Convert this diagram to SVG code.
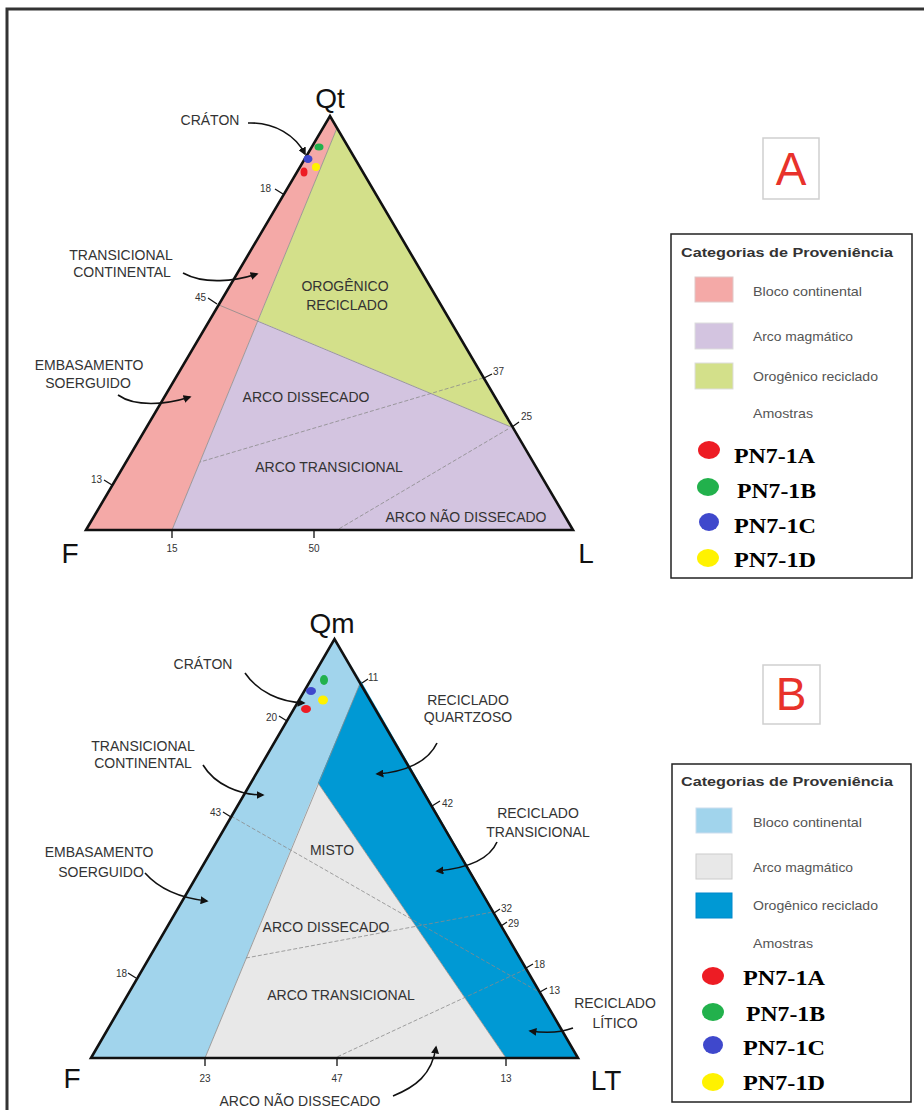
<svg xmlns="http://www.w3.org/2000/svg" width="924" height="1110" viewBox="0 0 924 1110">
<defs>
<style>
.edge{fill:none;stroke:#111;stroke-width:2.6;stroke-linejoin:miter}
.div{fill:none;stroke:#8a8a8a;stroke-width:0.8}
.dash{fill:none;stroke:#8a8a8a;stroke-width:0.8;stroke-dasharray:4 2}
.tick{fill:none;stroke:#111;stroke-width:1.3}
.lbl{font-family:"Liberation Sans",Arial,sans-serif;font-size:14px;fill:#333;text-anchor:middle}
.num{font-family:"Liberation Sans",Arial,sans-serif;font-size:10px;fill:#333}
.vtx{font-family:"Liberation Sans",Arial,sans-serif;font-size:28px;fill:#111}
.ptr{fill:none;stroke:#111;stroke-width:1.6}
.lt{font-family:"Liberation Sans",Arial,sans-serif;font-size:13px;font-weight:bold;fill:#333}
.li{font-family:"Liberation Sans",Arial,sans-serif;font-size:13px;fill:#555}
.pn{font-family:"Liberation Serif","Times New Roman",serif;font-size:21px;font-weight:bold;fill:#000}
.big{font-family:"Liberation Sans",Arial,sans-serif;font-size:46px;fill:#e8322b;text-anchor:middle}
.badge{fill:#fff;stroke:#cfcfcf;stroke-width:1.5}
.lbox{fill:#fff;stroke:#222;stroke-width:1.5}
</style>
<marker id="ah" viewBox="0 0 10 10" refX="8" refY="5" markerWidth="8" markerHeight="8" markerUnits="userSpaceOnUse" orient="auto">
<path d="M0,0 L10,5 L0,10 Z" fill="#111"/>
</marker>
</defs>
<rect width="924" height="1110" fill="#fff"/>
<rect x="7" y="9" width="940" height="1130" fill="none" stroke="#333" stroke-width="3"/>

<!-- Diagram A -->
<g id="triangleA">
<polygon points="86,530 330,116 337,128 172,530" fill="#f4a9a7"/>
<polygon points="337,128 511,427 258,321" fill="#d3e08a"/>
<polygon points="258,321 511,427 573,530 172,530" fill="#d3c4e0"/>
<line class="div" x1="337" y1="128" x2="172" y2="530"/>
<line class="div" x1="219" y1="305" x2="511" y2="427"/>
<line class="dash" x1="483" y1="378" x2="200" y2="462"/>
<line class="dash" x1="508" y1="429" x2="337" y2="530"/>
<polygon class="edge" points="86,530 330,116 573,530"/>
<path class="tick" d="M275,189 L283,194 M208,298 L217,304 M104,480 L112,485 M172,530 L172,538 M314,530 L314,538 M484,378 L492,374 M512,427 L519,422"/>
<text class="num" x="271" y="192" text-anchor="end">18</text>
<text class="num" x="206" y="301" text-anchor="end">45</text>
<text class="num" x="102" y="483" text-anchor="end">13</text>
<text class="num" x="172" y="552" text-anchor="middle">15</text>
<text class="num" x="314" y="552" text-anchor="middle">50</text>
<text class="num" x="493" y="375">37</text>
<text class="num" x="521" y="420">25</text>
<text class="vtx" x="330" y="108" text-anchor="middle">Qt</text>
<text class="vtx" x="70" y="563" text-anchor="middle">F</text>
<text class="vtx" x="586" y="563" text-anchor="middle">L</text>
<text class="lbl" x="345" y="291">OROGÊNICO</text>
<text class="lbl" x="347" y="310">RECICLADO</text>
<text class="lbl" x="306" y="402">ARCO DISSECADO</text>
<text class="lbl" x="329" y="472">ARCO TRANSICIONAL</text>
<text class="lbl" x="466" y="522">ARCO NÃO DISSECADO</text>
</g>
<g id="labelsA">
<text class="lbl" x="210" y="125">CRÁTON</text>
<text class="lbl" x="121" y="260">TRANSICIONAL</text>
<text class="lbl" x="122" y="277">CONTINENTAL</text>
<text class="lbl" x="89" y="370">EMBASAMENTO</text>
<text class="lbl" x="88" y="388">SOERGUIDO</text>
</g>
<g id="connectorsA">
<path class="ptr" d="M248,123 C275,122 296,136 305,154" marker-end="url(#ah)"/>
<path class="ptr" d="M183,273 C205,285 235,281 257,274" marker-end="url(#ah)"/>
<path class="ptr" d="M118,395 C135,407 165,405 190,397" marker-end="url(#ah)"/>
</g>
<g id="samplesA">
<ellipse cx="319" cy="147" rx="4.5" ry="3.5" fill="#22b14c"/>
<ellipse cx="308" cy="159" rx="4.5" ry="4" fill="#3f48cc"/>
<ellipse cx="316" cy="167" rx="4" ry="4" fill="#fff200"/>
<ellipse cx="304" cy="172" rx="3.5" ry="4.5" fill="#ed1c24"/>
</g>
<g id="badgeA">
<rect class="badge" x="763" y="138" width="56" height="61"/>
<text class="big" x="791" y="185">A</text>
</g>
<g id="legendA">
<rect class="lbox" x="671" y="234" width="241" height="344"/>
<text class="lt" x="681" y="257" textLength="212" lengthAdjust="spacingAndGlyphs">Categorias de Proveniência</text>
<rect x="695" y="277" width="38" height="25" fill="#f4a9a7" stroke="#e0c8c8"/>
<rect x="695" y="323" width="38" height="26" fill="#d3c4e0" stroke="#ddd"/>
<rect x="695" y="363" width="38" height="26" fill="#d3e08a" stroke="#ddd"/>
<text class="li" x="753" y="296" textLength="109" lengthAdjust="spacingAndGlyphs">Bloco continental</text>
<text class="li" x="753" y="341" textLength="100" lengthAdjust="spacingAndGlyphs">Arco magmático</text>
<text class="li" x="753" y="381" textLength="125" lengthAdjust="spacingAndGlyphs">Orogênico reciclado</text>
<text class="li" x="753" y="418" textLength="60" lengthAdjust="spacingAndGlyphs">Amostras</text>
<ellipse cx="709" cy="450" rx="11" ry="9" fill="#ed1c24"/>
<ellipse cx="708" cy="487" rx="11" ry="9" fill="#22b14c"/>
<ellipse cx="709" cy="522" rx="10" ry="9" fill="#3f48cc"/>
<ellipse cx="708" cy="558" rx="11" ry="9" fill="#fff200"/>
<text class="pn" x="734" y="463" textLength="81" lengthAdjust="spacingAndGlyphs">PN7-1A</text>
<text class="pn" x="737" y="498" textLength="79" lengthAdjust="spacingAndGlyphs">PN7-1B</text>
<text class="pn" x="734" y="533" textLength="82" lengthAdjust="spacingAndGlyphs">PN7-1C</text>
<text class="pn" x="734" y="567" textLength="82" lengthAdjust="spacingAndGlyphs">PN7-1D</text>
</g>

<!-- Diagram B -->
<g id="triangleB">
<polygon points="91,1058 334.5,639 361,681 205,1058" fill="#a1d4ec"/>
<polygon points="361,681 578,1058 506,1058 318,783" fill="#0099d4"/>
<polygon points="318,783 506,1058 205,1058" fill="#e8e8e8"/>
<line class="div" x1="361" y1="681" x2="205" y2="1058"/>
<line class="div" x1="318" y1="783" x2="506" y2="1058"/>
<line class="dash" x1="231" y1="816" x2="539" y2="992"/>
<line class="dash" x1="246" y1="958" x2="493" y2="912"/>
<line class="dash" x1="526" y1="969" x2="337" y2="1057"/>
<polygon class="edge" points="91,1058 334.5,639 578,1058"/>
<path class="tick" d="M279,716 L287,721 M223,812 L231,817 M128,973 L136,978 M205,1058 L205,1066 M337,1058 L337,1066 M506,1058 L506,1066 M362,683 L368,679 M432,806 L440,801 M494,913 L500,909 M501,926 L507,922 M526,968 L533,964 M540,992 L547,988"/>
<text class="num" x="277" y="721" text-anchor="end">20</text>
<text class="num" x="221" y="816" text-anchor="end">43</text>
<text class="num" x="127" y="977" text-anchor="end">18</text>
<text class="num" x="205" y="1082" text-anchor="middle">23</text>
<text class="num" x="337" y="1082" text-anchor="middle">47</text>
<text class="num" x="506" y="1082" text-anchor="middle">13</text>
<text class="num" x="368" y="681">11</text>
<text class="num" x="442" y="807">42</text>
<text class="num" x="501" y="912">32</text>
<text class="num" x="508" y="927">29</text>
<text class="num" x="534" y="968">18</text>
<text class="num" x="549" y="994">13</text>
<text class="vtx" x="332" y="633" text-anchor="middle">Qm</text>
<text class="vtx" x="72" y="1088" text-anchor="middle">F</text>
<text class="vtx" x="606" y="1090" text-anchor="middle">LT</text>
<text class="lbl" x="332" y="855">MISTO</text>
<text class="lbl" x="326" y="932">ARCO DISSECADO</text>
<text class="lbl" x="341" y="1000">ARCO TRANSICIONAL</text>
</g>
<g id="labelsB">
<text class="lbl" x="203" y="669">CRÁTON</text>
<text class="lbl" x="143" y="751">TRANSICIONAL</text>
<text class="lbl" x="143" y="768">CONTINENTAL</text>
<text class="lbl" x="99" y="857">EMBASAMENTO</text>
<text class="lbl" x="101" y="877">SOERGUIDO</text>
<text class="lbl" x="468" y="705">RECICLADO</text>
<text class="lbl" x="468" y="722">QUARTZOSO</text>
<text class="lbl" x="538" y="818">RECICLADO</text>
<text class="lbl" x="538" y="837">TRANSICIONAL</text>
<text class="lbl" x="615" y="1008">RECICLADO</text>
<text class="lbl" x="615" y="1028">LÍTICO</text>
<text class="lbl" x="300" y="1106">ARCO NÃO DISSECADO</text>
</g>
<g id="connectorsB">
<path class="ptr" d="M245,673 C258,692 280,702 304,703" marker-end="url(#ah)"/>
<path class="ptr" d="M203,765 C215,785 240,795 263,795" marker-end="url(#ah)"/>
<path class="ptr" d="M145,873 C160,890 180,898 207,901" marker-end="url(#ah)"/>
<path class="ptr" d="M437,743 C428,762 405,772 377,774" marker-end="url(#ah)"/>
<path class="ptr" d="M497,842 C490,858 470,868 437,871" marker-end="url(#ah)"/>
<path class="ptr" d="M573,1028 C560,1033 545,1033 530,1031" marker-end="url(#ah)"/>
<path class="ptr" d="M393,1096 C415,1087 432,1075 436,1047" marker-end="url(#ah)"/>
</g>
<g id="samplesB">
<ellipse cx="324" cy="680" rx="4" ry="5" fill="#22b14c"/>
<ellipse cx="311" cy="691" rx="5" ry="4" fill="#3f48cc"/>
<ellipse cx="323" cy="700" rx="5" ry="4.5" fill="#fff200"/>
<ellipse cx="306" cy="709" rx="5" ry="4" fill="#ed1c24"/>
</g>
<g id="badgeB">
<rect class="badge" x="763" y="665" width="57" height="59"/>
<text class="big" x="791" y="710">B</text>
</g>
<g id="legendB">
<rect class="lbox" x="672" y="764" width="239" height="338"/>
<text class="lt" x="681" y="786" textLength="212" lengthAdjust="spacingAndGlyphs">Categorias de Proveniência</text>
<rect x="696" y="808" width="36" height="25" fill="#a1d4ec" stroke="#cde"/>
<rect x="696" y="854" width="36" height="25" fill="#e8e8e8" stroke="#ccc"/>
<rect x="696" y="893" width="36" height="25" fill="#0099d4" stroke="#08c"/>
<text class="li" x="753" y="827" textLength="109" lengthAdjust="spacingAndGlyphs">Bloco continental</text>
<text class="li" x="753" y="872" textLength="100" lengthAdjust="spacingAndGlyphs">Arco magmático</text>
<text class="li" x="753" y="910" textLength="125" lengthAdjust="spacingAndGlyphs">Orogênico reciclado</text>
<text class="li" x="753" y="948" textLength="60" lengthAdjust="spacingAndGlyphs">Amostras</text>
<ellipse cx="713" cy="976" rx="11" ry="9" fill="#ed1c24"/>
<ellipse cx="713" cy="1012" rx="11" ry="9" fill="#22b14c"/>
<ellipse cx="713" cy="1045" rx="10" ry="9" fill="#3f48cc"/>
<ellipse cx="713" cy="1082" rx="11" ry="9" fill="#fff200"/>
<text class="pn" x="743" y="985" textLength="82" lengthAdjust="spacingAndGlyphs">PN7-1A</text>
<text class="pn" x="746" y="1021" textLength="79" lengthAdjust="spacingAndGlyphs">PN7-1B</text>
<text class="pn" x="743" y="1055" textLength="82" lengthAdjust="spacingAndGlyphs">PN7-1C</text>
<text class="pn" x="743" y="1090" textLength="82" lengthAdjust="spacingAndGlyphs">PN7-1D</text>
</g>
</svg>
